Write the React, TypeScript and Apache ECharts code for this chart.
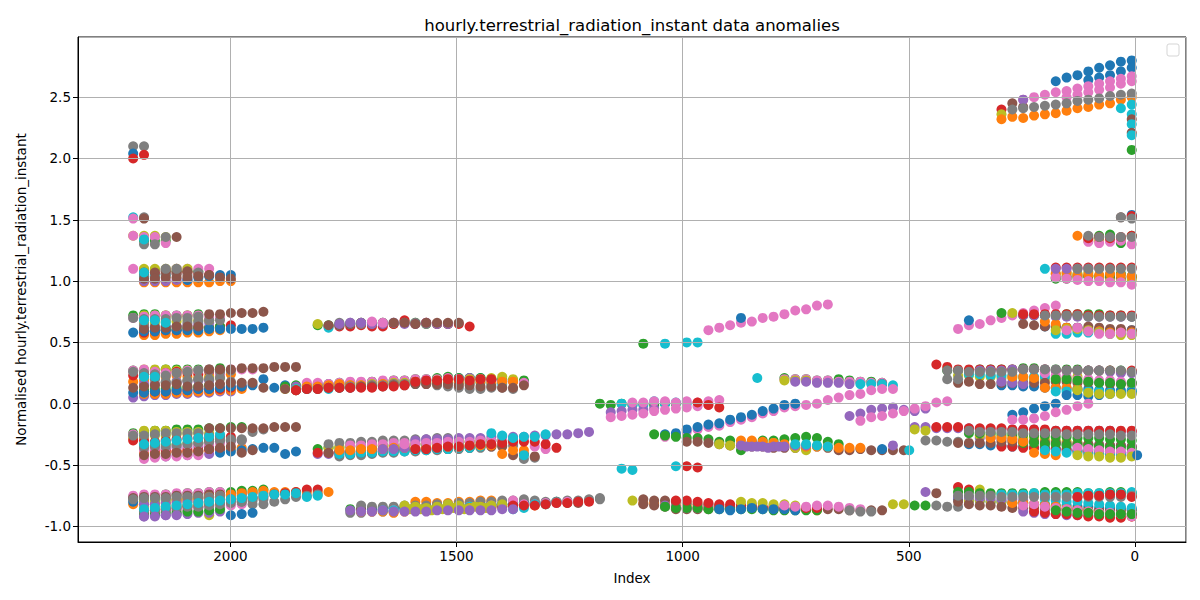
import * as echarts from 'echarts';
import React, { useEffect, useRef } from 'react';

// tab10 colours, matplotlib default cycle
const palette: Record<string, string> = {
  blue: '#1f77b4',
  orange: '#ff7f0e',
  green: '#2ca02c',
  red: '#d62728',
  purple: '#9467bd',
  brown: '#8c564b',
  pink: '#e377c2',
  gray: '#7f7f7f',
  olive: '#bcbd22',
  cyan: '#17becf',
};

// samples are 24 indices apart; each band = [colour, first index, values going towards index 0]
const STEP = 24;
type Band = [string, number, number[]];

const leftCluster: Band[] = [
  ['gray', 2215, [2.1, 2.1]],
  ['blue', 2215, [2.04]],
  ['red', 2215, [2.0, 2.03]],
  ['cyan', 2215, [1.52]],
  ['pink', 2215, [1.51]],
  ['gray', 2191, [1.52]],
  ['brown', 2191, [1.51]],
  ['green', 2191, [1.33, 1.33, 1.33]],
  ['olive', 2215, [1.37, 1.37, 1.37, 1.36]],
  ['pink', 2215, [1.37, 1.36, 1.36, 1.31]],
  ['gray', 2191, [1.3, 1.3, 1.36]],
  ['cyan', 2191, [1.34]],
  ['brown', 2119, [1.36]],
  ['green', 2191, [1.09, 1.09, 1.09, 1.08, 1.08, 1.08]],
  ['pink', 2215, [1.1, 1.08, 1.07, 1.09, 1.1, 1.1, 1.1, 1.1]],
  ['olive', 2191, [1.1, 1.1, 1.1, 1.1, 1.1]],
  ['orange', 2191, [0.99, 0.99, 0.99, 0.99, 0.99, 0.99, 0.99, 1.0, 1.0]],
  ['purple', 2191, [1.0, 1.0, 1.0, 1.01, 1.01]],
  ['red', 2191, [1.05, 1.05, 1.06, 1.06, 1.07, 1.06, 1.05]],
  ['cyan', 2191, [1.04, 1.04, 1.05]],
  ['blue', 2095, [1.01, 1.03, 1.04, 1.05, 1.05]],
  ['gray', 2191, [1.06, 1.03, 1.06, 1.06, 1.05, 1.07]],
  ['brown', 2191, [1.07, 1.07, 1.08, 1.08, 1.08]],
  ['brown', 2191, [1.02, 1.02, 1.03, 1.03, 1.03, 1.04, 1.05, 1.03, 1.02]],
  ['cyan', 2191, [1.07]],
  ['gray', 2143, [1.1, 1.1]],
  ['green', 2215, [0.72, 0.73, 0.73, 0.72, 0.72, 0.72, 0.73]],
  ['olive', 2191, [0.72, 0.72, 0.72, 0.71, 0.72]],
  ['orange', 2191, [0.56, 0.56, 0.57, 0.57, 0.58, 0.58, 0.59, 0.6]],
  ['red', 2191, [0.58, 0.59, 0.6, 0.6, 0.61, 0.62, 0.62, 0.63, 0.64]],
  ['green', 2191, [0.6, 0.6, 0.61, 0.61, 0.62, 0.62, 0.62, 0.63]],
  ['purple', 2191, [0.62, 0.62, 0.63, 0.63, 0.64, 0.65, 0.66]],
  ['olive', 2191, [0.66, 0.66, 0.67, 0.67, 0.68, 0.68, 0.68]],
  ['blue', 2215, [0.58, 0.59, 0.59, 0.6, 0.6, 0.6, 0.6, 0.61, 0.61, 0.61, 0.61, 0.61, 0.62]],
  ['pink', 2215, [0.7, 0.71, 0.72, 0.72, 0.72, 0.72, 0.72, 0.7, 0.7]],
  ['gray', 2215, [0.7, 0.69, 0.69, 0.69, 0.7, 0.7, 0.71]],
  ['gray', 2191, [0.64, 0.63, 0.63, 0.63, 0.66, 0.67, 0.68, 0.68]],
  ['brown', 2191, [0.61, 0.62, 0.62, 0.63, 0.63, 0.63]],
  ['brown', 2047, [0.73, 0.73, 0.74, 0.74, 0.74, 0.75]],
  ['cyan', 2191, [0.68, 0.68, 0.66]],
  ['green', 2215, [0.27, 0.27, 0.27, 0.28, 0.28, 0.28, 0.28, 0.28, 0.29]],
  ['olive', 2191, [0.28, 0.28, 0.28, 0.27, 0.27]],
  ['purple', 2215, [0.05, 0.06, 0.07, 0.07, 0.08, 0.08, 0.09, 0.09, 0.1, 0.1]],
  ['orange', 2191, [0.08, 0.08, 0.08, 0.09, 0.09, 0.1, 0.1, 0.11, 0.11, 0.12]],
  ['orange', 2215, [0.18, 0.19, 0.21, 0.22, 0.23, 0.22, 0.21, 0.22, 0.23, 0.24]],
  ['red', 2191, [0.1, 0.1, 0.1, 0.11, 0.11, 0.12, 0.12, 0.12, 0.13, 0.14]],
  ['red', 2215, [0.23, 0.24, 0.24, 0.25, 0.26, 0.25, 0.24, 0.26, 0.27]],
  ['green', 2191, [0.11, 0.12, 0.12, 0.13, 0.13, 0.14, 0.15]],
  ['olive', 2191, [0.15, 0.16, 0.17, 0.18, 0.19, 0.2, 0.21, 0.21]],
  ['blue', 2215, [0.09, 0.09, 0.1, 0.1, 0.11, 0.11, 0.12, 0.12, 0.13, 0.14, 0.14, 0.15, 0.2, 0.13, 0.15]],
  ['purple', 2191, [0.16, 0.16, 0.17, 0.18, 0.18, 0.19, 0.19]],
  ['pink', 2215, [0.27, 0.28, 0.26, 0.25, 0.25, 0.27, 0.27, 0.28, 0.24, 0.28, 0.28, 0.28]],
  ['gray', 2215, [0.26, 0.25, 0.24, 0.23, 0.25, 0.26, 0.27, 0.27, 0.26, 0.27]],
  ['gray', 2191, [0.22, 0.2, 0.18, 0.17, 0.19, 0.2, 0.2, 0.21, 0.18]],
  ['brown', 2215, [0.13, 0.14, 0.15, 0.15, 0.16, 0.14, 0.14, 0.15, 0.16, 0.17, 0.17, 0.17, 0.13]],
  ['brown', 2047, [0.28, 0.28, 0.28, 0.29, 0.29, 0.29, 0.3, 0.3, 0.3]],
  ['cyan', 2191, [0.22, 0.22]],
  ['green', 2215, [-0.24, -0.23, -0.22, -0.22, -0.21, -0.21, -0.21, -0.2, -0.2, -0.19, -0.19]],
  ['olive', 2191, [-0.22, -0.22, -0.22, -0.23, -0.23, -0.23]],
  ['olive', 2215, [-0.28, -0.27, -0.26, -0.26, -0.25, -0.25, -0.24, -0.24]],
  ['red', 2215, [-0.3, -0.3, -0.31, -0.3, -0.29, -0.28, -0.28, -0.29, -0.27, -0.27]],
  ['green', 2191, [-0.34, -0.34, -0.33, -0.33, -0.32, -0.32, -0.31, -0.31, -0.3]],
  ['orange', 2191, [-0.4, -0.4, -0.4, -0.39, -0.39, -0.39, -0.38, -0.37, -0.37, -0.36]],
  ['purple', 2191, [-0.36, -0.36, -0.37, -0.36, -0.36, -0.35, -0.35]],
  ['purple', 2167, [-0.43, -0.43, -0.42, -0.42, -0.41, -0.41]],
  ['red', 2167, [-0.38, -0.38, -0.39, -0.38, -0.38, -0.37, -0.37]],
  ['pink', 2215, [-0.25, -0.45, -0.44, -0.43, -0.43, -0.42, -0.42]],
  ['pink', 2191, [-0.38, -0.37, -0.36, -0.35, -0.34, -0.33, -0.33, -0.32, -0.31, -0.3]],
  ['gray', 2191, [-0.36, -0.35, -0.35, -0.34, -0.33, -0.32, -0.31, -0.3, -0.3, -0.29]],
  ['gray', 2215, [-0.26, -0.26, -0.25, -0.24, -0.24, -0.24, -0.24, -0.26, -0.28, -0.29, -0.3, -0.23, -0.21]],
  ['blue', 2023, [-0.4, -0.39, -0.38, -0.37, -0.36, -0.36, -0.41, -0.39]],
  ['cyan', 2191, [-0.33, -0.32, -0.31, -0.3, -0.29, -0.28, -0.27, -0.25]],
  ['brown', 2191, [-0.42, -0.41, -0.41, -0.4, -0.4, -0.39, -0.37, -0.36, -0.35, -0.4, -0.38]],
  ['brown', 2047, [-0.2, -0.2, -0.2, -0.2, -0.2, -0.2, -0.19, -0.19, -0.19]],
  ['green', 2215, [-0.76, -0.75, -0.75, -0.74, -0.74, -0.73, -0.73, -0.72, -0.72, -0.72, -0.71, -0.71, -0.7]],
  ['orange', 2215, [-0.82, -0.82, -0.81, -0.81, -0.8, -0.8, -0.8, -0.79, -0.79, -0.78, -0.78, -0.77]],
  ['blue', 2215, [-0.8, -0.79, -0.79, -0.78, -0.78, -0.77, -0.77, -0.76, -0.76, -0.75, -0.75]],
  ['pink', 2215, [-0.75, -0.74, -0.74, -0.74, -0.73, -0.73, -0.73, -0.72, -0.72]],
  ['brown', 2215, [-0.77, -0.76, -0.76, -0.76, -0.75, -0.75, -0.75, -0.74, -0.74, -0.74, -0.73, -0.73, -0.73]],
  ['olive', 2191, [-0.8, -0.8, -0.79, -0.79, -0.78, -0.77, -0.91, -0.76, -0.75]],
  ['olive', 2191, [-0.85, -0.84, -0.84, -0.83, -0.83, -0.82, -0.82, -0.81]],
  ['orange', 2119, [-0.78, -0.78, -0.77, -0.76, -0.75, -0.74, -0.73, -0.72, -0.71, -0.72, -0.72, -0.72, -0.72, -0.72, -0.72]],
  ['red', 2191, [-0.88, -0.87, -0.86, -0.85, -0.84, -0.84, -0.83, -0.8, -0.79, -0.78, -0.77, -0.76, -0.74, -0.73, -0.72, -0.7, -0.7]],
  ['purple', 2191, [-0.82, -0.82, -0.81, -0.81, -0.8, -0.8, -0.79, -0.79, -0.78]],
  ['purple', 2191, [-0.92, -0.91, -0.91, -0.9, -0.9, -0.89, -0.89, -0.88]],
  ['pink', 2191, [-0.9, -0.89, -0.88, -0.87, -0.86, -0.85, -0.84, -0.84, -0.83, -0.82]],
  ['green', 2191, [-0.9, -0.9, -0.89, -0.89, -0.88, -0.88, -0.87, -0.86]],
  ['gray', 2191, [-0.88, -0.87, -0.86, -0.85, -0.84, -0.84, -0.83, -0.82, -0.81, -0.8, -0.79, -0.78]],
  ['gray', 2215, [-0.78, -0.77, -0.77, -0.77, -0.76, -0.76, -0.76, -0.76, -0.75, -0.78, -0.8, -0.82, -0.82, -0.8, -0.78, -0.76, -0.75, -0.74]],
  ['blue', 1999, [-0.91, -0.9, -0.89]],
  ['cyan', 2191, [-0.86, -0.85, -0.84, -0.83, -0.82, -0.81, -0.8, -0.79, -0.78, -0.77, -0.76, -0.75, -0.74, -0.74, -0.73, -0.76, -0.75]],
  ['purple', 2191, [-0.92, -0.92, -0.91, -0.91]],
];

const middleLeftCluster: Band[] = [
  ['green', 1807, [0.64, 0.64, 0.65, 0.65, 0.66, 0.66, 0.66, 0.65, 0.66, 0.66, 0.65, 0.65, 0.65]],
  ['red', 1783, [0.63, 0.63, 0.63, 0.64, 0.63, 0.63, 0.65, 0.68, 0.65, 0.66, 0.65, 0.65, 0.65, 0.63]],
  ['olive', 1807, [0.65]],
  ['cyan', 1783, [0.62, 0.64, 0.65]],
  ['brown', 1783, [0.64, 0.64, 0.65, 0.66, 0.66]],
  ['gray', 1759, [0.66, 0.66, 0.65, 0.65, 0.66, 0.66, 0.66, 0.66, 0.65]],
  ['purple', 1759, [0.65, 0.66, 0.66, 0.65, 0.65, 0.66, 0.65, 0.65, 0.66, 0.65, 0.65]],
  ['pink', 1687, [0.67, 0.66]],
  ['brown', 1639, [0.66, 0.66, 0.65, 0.66, 0.66, 0.66, 0.66]],
  ['blue', 1879, [0.13, 0.13, 0.14, 0.14, 0.15, 0.15, 0.16, 0.16, 0.17, 0.17, 0.18, 0.18, 0.19, 0.19, 0.2, 0.2, 0.21, 0.21, 0.21, 0.2, 0.19, 0.19, 0.18]],
  ['green', 1879, [0.14, 0.15, 0.15, 0.16, 0.16, 0.17, 0.17, 0.17, 0.18, 0.18, 0.19, 0.19, 0.2, 0.2, 0.21, 0.22, 0.21, 0.21, 0.21, 0.2, 0.2, 0.19, 0.19]],
  ['purple', 1855, [0.14, 0.15, 0.15, 0.16, 0.16, 0.13, 0.14, 0.14, 0.15, 0.16, 0.17, 0.18, 0.19, 0.19, 0.2, 0.2, 0.21, 0.2, 0.19, 0.18]],
  ['pink', 1831, [0.17, 0.17, 0.16, 0.17, 0.18, 0.18, 0.18, 0.19, 0.19, 0.19, 0.2, 0.2, 0.2, 0.21, 0.2, 0.2, 0.2, 0.19, 0.18, 0.18, 0.17]],
  ['olive', 1879, [0.12, 0.12, 0.13, 0.13, 0.14, 0.14, 0.15, 0.15, 0.16, 0.16, 0.17, 0.17, 0.18, 0.18, 0.19, 0.19, 0.19, 0.2, 0.2, 0.21, 0.22, 0.2]],
  ['cyan', 1855, [0.12, 0.12, 0.13, 0.12, 0.13, 0.14, 0.14, 0.15, 0.15, 0.16, 0.16, 0.16, 0.17, 0.17, 0.18, 0.17, 0.17, 0.17, 0.16, 0.16]],
  ['orange', 1855, [0.11, 0.14, 0.14, 0.15, 0.16, 0.15, 0.15, 0.15, 0.16, 0.16, 0.16, 0.17, 0.17, 0.17, 0.18, 0.17, 0.17, 0.18, 0.17, 0.18, 0.18]],
  ['gray', 1855, [0.11, 0.12, 0.12, 0.13, 0.13, 0.14, 0.14, 0.15, 0.15, 0.16, 0.16, 0.17, 0.16, 0.15, 0.14, 0.13, 0.12, 0.12, 0.13, 0.13, 0.12]],
  ['brown', 1879, [0.12, 0.11, 0.12, 0.12, 0.13, 0.13, 0.13, 0.14, 0.14, 0.14, 0.15, 0.15, 0.16, 0.16, 0.16, 0.16, 0.15, 0.15, 0.14, 0.14, 0.13, 0.13, 0.15]],
  ['red', 1855, [0.11, 0.12, 0.12, 0.13, 0.13, 0.13, 0.13, 0.13, 0.14, 0.14, 0.15, 0.18, 0.19, 0.19, 0.2, 0.2, 0.19, 0.2, 0.2]],
  ['green', 1807, [-0.37, -0.36, -0.36, -0.35, -0.35, -0.35, -0.34, -0.34, -0.34, -0.33, -0.33, -0.33, -0.32, -0.32, -0.31, -0.31, -0.3, -0.3, -0.3]],
  ['purple', 1807, [-0.41, -0.41, -0.4, -0.4, -0.39, -0.39, -0.39, -0.38, -0.38, -0.38, -0.37, -0.37]],
  ['red', 1807, [-0.4, -0.4, -0.39, -0.39, -0.38, -0.38, -0.37, -0.37, -0.36]],
  ['olive', 1783, [-0.36, -0.35, -0.35, -0.36, -0.34, -0.34, -0.34, -0.33, -0.33, -0.32, -0.32, -0.31, -0.3, -0.31, -0.29, -0.3]],
  ['gray', 1783, [-0.33, -0.32, -0.32, -0.31, -0.31, -0.3, -0.3, -0.3, -0.29, -0.29, -0.28, -0.28]],
  ['pink', 1735, [-0.34, -0.34, -0.33, -0.33, -0.32, -0.32, -0.31, -0.31]],
  ['blue', 1759, [-0.39, -0.39, -0.38, -0.38, -0.38, -0.37, -0.37, -0.37, -0.36, -0.36, -0.35, -0.35, -0.35, -0.34]],
  ['gray', 1759, [-0.43, -0.42, -0.42, -0.41, -0.4, -0.4, -0.39, -0.39, -0.38, -0.38, -0.37, -0.37, -0.36, -0.36, -0.35, -0.34, -0.34, -0.45, -0.44]],
  ['brown', 1783, [-0.4, -0.41, -0.41, -0.4, -0.4, -0.39, -0.39, -0.38, -0.38, -0.37, -0.37, -0.37, -0.36, -0.36, -0.35, -0.35, -0.35, -0.42, -0.41, -0.43]],
  ['cyan', 1759, [-0.41, -0.41, -0.4, -0.4, -0.39, -0.39, -0.39, -0.38, -0.38, -0.37, -0.37, -0.36, -0.36, -0.35]],
  ['orange', 1759, [-0.38, -0.38, -0.37, -0.37, -0.37, -0.36, -0.36, -0.36, -0.36, -0.35, -0.35, -0.35, -0.34, -0.34, -0.34, -0.41, -0.38, -0.38]],
  ['purple', 1663, [-0.37, -0.37, -0.36, -0.3, -0.29, -0.29, -0.29, -0.28, -0.28, -0.28, -0.27, -0.27, -0.27, -0.27, -0.26, -0.26, -0.25, -0.25, -0.24, -0.23]],
  ['pink', 1615, [-0.33, -0.33, -0.32, -0.32, -0.31, -0.31, -0.31, -0.3, -0.3, -0.3, -0.3, -0.3, -0.35, -0.37]],
  ['red', 1591, [-0.37, -0.37, -0.36, -0.35, -0.35, -0.34, -0.33, -0.33, -0.32, -0.31, -0.31, -0.31, -0.33, -0.36]],
  ['cyan', 1423, [-0.24, -0.26, -0.28, -0.27, -0.27, -0.25]],
  ['cyan', 1351, [-0.42]],
  ['green', 1735, [-0.86, -0.86, -0.86, -0.85, -0.85, -0.85, -0.84, -0.84, -0.84, -0.83, -0.83, -0.83, -0.82, -0.82, -0.82, -0.82, -0.81, -0.81, -0.81, -0.8]],
  ['gray', 1735, [-0.89, -0.89, -0.88, -0.88, -0.88, -0.87, -0.87, -0.87, -0.86, -0.86, -0.86, -0.85]],
  ['orange', 1711, [-0.88, -0.88, -0.88, -0.89, -0.88, -0.87, -0.87, -0.86, -0.86, -0.86, -0.85, -0.85, -0.85, -0.84, -0.84, -0.83, -0.83, -0.82]],
  ['orange', 1591, [-0.8, -0.8, -0.81, -0.81, -0.8, -0.8, -0.79, -0.79]],
  ['brown', 1711, [-0.86, -0.86, -0.86, -0.85, -0.85, -0.85, -0.85, -0.84, -0.84, -0.84, -0.84, -0.83, -0.83, -0.83, -0.83, -0.82, -0.82, -0.82, -0.81, -0.81, -0.81]],
  ['blue', 1687, [-0.86, -0.86, -0.85, -0.85, -0.85, -0.84, -0.84, -0.84, -0.83, -0.83, -0.83, -0.82, -0.82, -0.82, -0.81, -0.81, -0.81, -0.8]],
  ['gray', 1711, [-0.83, -0.84, -0.84, -0.84, -0.83, -0.83, -0.83, -0.82, -0.82, -0.81, -0.81, -0.8, -0.8, -0.79, -0.79, -0.78, -0.79, -0.8, -0.8, -0.79, -0.79, -0.78, -0.78]],
  ['pink', 1639, [-0.87, -0.87, -0.86, -0.86, -0.85, -0.85, -0.85, -0.84, -0.84, -0.83, -0.83, -0.79, -0.82, -0.82, -0.81, -0.81, -0.8]],
  ['cyan', 1663, [-0.87, -0.87, -0.86, -0.86, -0.86, -0.85, -0.85, -0.85, -0.84, -0.84, -0.84, -0.84, -0.86, -0.85, -0.82, -0.82]],
  ['red', 1567, [-0.87, -0.86, -0.86, -0.85, -0.85, -0.84, -0.84, -0.84, -0.83, -0.83, -0.83, -0.82, -0.81, -0.81, -0.8, -0.8]],
  ['olive', 1615, [-0.83, -0.84, -0.85, -0.84, -0.82, -0.83, -0.85, -0.84, -0.83, -0.82]],
  ['olive', 1603, [-0.86, -0.86, -0.87, -0.86, -0.85, -0.86, -0.84, -0.85]],
  ['purple', 1735, [-0.87, -0.88, -0.88, -0.87, -0.88, -0.88, -0.88, -0.88, -0.87, -0.87, -0.87, -0.87, -0.87, -0.87, -0.86, -0.86]],
];

const middleRightCluster: Band[] = [
  ['pink', 943, [0.6, 0.62, 0.64, 0.66, 0.67, 0.7, 0.71, 0.73, 0.76, 0.77, 0.8, 0.81]],
  ['blue', 871, [0.7]],
  ['green', 1087, [0.49]],
  ['cyan', 1039, [0.49]],
  ['cyan', 991, [0.5, 0.5]],
  ['cyan', 835, [0.21]],
  ['green', 775, [0.21, 0.2, 0.2, 0.19, 0.19, 0.2, 0.19, 0.18, 0.18, 0.17]],
  ['pink', 775, [0.2, 0.2, 0.2, 0.19, 0.19, 0.18, 0.18, 0.18, 0.17, 0.17]],
  ['olive', 775, [0.19, 0.19, 0.19]],
  ['purple', 751, [0.18, 0.18, 0.17, 0.17, 0.17, 0.16]],
  ['red', 559, [0.16]],
  ['cyan', 607, [0.16, 0.16, 0.16, 0.15]],
  ['green', 1183, [0.0, -0.01, 0.0, -0.01, 0.0, -0.01, 0.0, 0.0]],
  ['cyan', 1135, [0.0, -0.01, -0.01, 0.02, 0.0, 0.01, 0.0]],
  ['purple', 1159, [-0.07, -0.06, -0.05, -0.05, -0.04]],
  ['pink', 1159, [-0.11, -0.1, -0.09, -0.08, -0.06, -0.05, -0.04, -0.03, -0.02, -0.01, 0.03]],
  ['pink', 1111, [0.01, 0.01, 0.02, 0.02, 0.01, 0.02, 0.01, 0.02]],
  ['red', 967, [0.01, -0.01, -0.03]],
  ['pink', 1039, [-0.27, -0.26, -0.23, -0.21, -0.19, -0.18, -0.15, -0.13, -0.11, -0.08, -0.06, -0.03, -0.02, -0.01, 0.0, 0.03, 0.05, 0.07, 0.08, 0.11, 0.12, 0.12]],
  ['blue', 1039, [-0.25, -0.24, -0.21, -0.19, -0.17, -0.16, -0.13, -0.11, -0.09, -0.06, -0.04, -0.01, 0.0]],
  ['purple', 631, [-0.1, -0.08, -0.05, -0.04, -0.03, -0.05, -0.06, -0.04]],
  ['pink', 607, [-0.14, -0.11, -0.1, -0.08, -0.06, -0.04, -0.02, 0.01, 0.02]],
  ['green', 1063, [-0.25, -0.26, -0.27, -0.28, -0.28, -0.29, -0.31, -0.3, -0.38, -0.31, -0.3, -0.3, -0.29, -0.28, -0.27, -0.28, -0.31, -0.33]],
  ['brown', 991, [-0.31, -0.31, -0.32, -0.33, -0.34, -0.34, -0.35, -0.35, -0.36, -0.36, -0.36, -0.37, -0.35, -0.36, -0.38, -0.38, -0.37, -0.38, -0.38, -0.38, -0.38]],
  ['olive', 919, [-0.33, -0.34, -0.33, -0.33, -0.32, -0.32, -0.34, -0.36, -0.38]],
  ['orange', 871, [-0.3, -0.3, -0.31, -0.32, -0.33, -0.34, -0.35, -0.35, -0.35, -0.36, -0.36, -0.36]],
  ['purple', 871, [-0.34, -0.35, -0.35, -0.35, -0.35, -0.34, -0.34]],
  ['purple', 859, [-0.35, -0.35, -0.36, -0.35]],
  ['cyan', 751, [-0.33, -0.33, -0.34, -0.35]],
  ['blue', 559, [-0.37]],
  ['purple', 535, [-0.34]],
  ['cyan', 499, [-0.38]],
  ['cyan', 1135, [-0.53, -0.54]],
  ['cyan', 1015, [-0.51]],
  ['red', 991, [-0.51, -0.52]],
  ['gray', 1183, [-0.77]],
  ['olive', 1111, [-0.79]],
  ['orange', 1087, [-0.81, -0.81, -0.82, -0.83, -0.83, -0.84, -0.84, -0.84, -0.85, -0.85, -0.85, -0.85, -0.86, -0.86, -0.86, -0.86, -0.87]],
  ['brown', 1087, [-0.78, -0.79, -0.79, -0.8, -0.81, -0.82, -0.82, -0.83, -0.84, -0.84, -0.85, -0.85, -0.85, -0.86, -0.86, -0.86, -0.86, -0.86, -0.86, -0.87, -0.87, -0.87, -0.87]],
  ['brown', 1087, [-0.82, -0.83, -0.84, -0.86, -0.86, -0.86, -0.86, -0.85, -0.85, -0.85]],
  ['purple', 1039, [-0.83, -0.84, -0.85, -0.85, -0.84]],
  ['green', 1039, [-0.84, -0.85, -0.85, -0.85, -0.86, -0.86, -0.86, -0.86, -0.86, -0.86, -0.87, -0.87, -0.87, -0.87, -0.87]],
  ['red', 1015, [-0.79, -0.79, -0.8, -0.81, -0.82, -0.82, -0.83, -0.83, -0.84, -0.84, -0.85, -0.85, -0.85, -0.85]],
  ['olive', 871, [-0.8, -0.81, -0.81, -0.82, -0.82, -0.83]],
  ['blue', 919, [-0.86, -0.87, -0.86, -0.85, -0.86, -0.86, -0.86, -0.87]],
  ['pink', 775, [-0.83, -0.84, -0.84, -0.83, -0.83, -0.84, -0.85, -0.86]],
  ['gray', 631, [-0.87, -0.88, -0.88]],
  ['olive', 535, [-0.82, -0.82]],
  ['green', 487, [-0.83, -0.83]],
];

const rightCluster: Band[] = [
  ['blue', 175, [2.63, 2.66, 2.68, 2.71, 2.74, 2.76, 2.79, 2.8]],
  ['blue', 103, [2.64, 2.66, 2.68, 2.71, 2.74]],
  ['pink', 247, [2.48, 2.5, 2.52, 2.54, 2.55, 2.57, 2.59, 2.61, 2.63, 2.65, 2.67]],
  ['pink', 151, [2.5, 2.52, 2.54, 2.56, 2.58, 2.61, 2.63]],
  ['red', 295, [2.4]],
  ['olive', 295, [2.36]],
  ['brown', 271, [2.45, 2.42]],
  ['purple', 247, [2.48]],
  ['orange', 295, [2.32, 2.34, 2.33, 2.35, 2.36, 2.37, 2.39, 2.41, 2.42, 2.44, 2.45, 2.48, 2.5]],
  ['gray', 271, [2.4, 2.41, 2.42, 2.43, 2.44, 2.45, 2.47, 2.48, 2.49, 2.51, 2.52, 2.53]],
  ['cyan', 31, [2.41, 2.44]],
  ['cyan', 7, [2.36]],
  ['brown', 7, [2.32]],
  ['cyan', 7, [2.28]],
  ['brown', 7, [2.21]],
  ['cyan', 7, [2.19]],
  ['green', 7, [2.07]],
  ['brown', 31, [1.52, 1.52]],
  ['blue', 7, [1.54]],
  ['red', 7, [1.53]],
  ['gray', 31, [1.52, 1.51]],
  ['orange', 127, [1.37]],
  ['green', 103, [1.35, 1.37, 1.38, 1.31, 1.37]],
  ['olive', 103, [1.33, 1.33, 1.34, 1.34]],
  ['pink', 103, [1.32, 1.31, 1.32, 1.33, 1.3]],
  ['red', 103, [1.35, 1.36, 1.35, 1.36, 1.37]],
  ['gray', 103, [1.37, 1.36, 1.36, 1.36, 1.36]],
  ['cyan', 199, [1.1]],
  ['red', 175, [1.11, 1.11, 1.11, 1.11, 1.11, 1.11, 1.11, 1.11]],
  ['brown', 175, [1.03, 1.04, 1.05, 1.04, 1.03, 1.03, 1.02, 1.03]],
  ['green', 175, [1.02, 1.02, 1.03, 1.04, 1.04, 1.05, 1.06, 1.04]],
  ['olive', 175, [1.06, 1.06, 1.06, 1.07, 1.03, 1.0, 1.0, 1.01]],
  ['orange', 175, [1.06, 1.07, 1.04, 1.05, 1.05, 1.06, 1.05, 1.04]],
  ['pink', 175, [1.03, 1.02, 1.01, 1.0, 1.0, 0.99, 0.99, 0.97]],
  ['purple', 175, [1.1, 1.1, 1.1, 1.1]],
  ['gray', 127, [1.1, 1.1, 1.1, 1.1, 1.1, 1.1]],
  ['pink', 391, [0.61, 0.64, 0.65, 0.68, 0.7, 0.72, 0.74, 0.76, 0.78, 0.8]],
  ['blue', 367, [0.68]],
  ['green', 295, [0.74]],
  ['olive', 271, [0.74]],
  ['green', 247, [0.72, 0.72, 0.72, 0.72, 0.73, 0.73, 0.73, 0.73, 0.72, 0.72, 0.71]],
  ['purple', 247, [0.72, 0.72, 0.72, 0.71, 0.71, 0.71, 0.71, 0.71, 0.71, 0.71, 0.71]],
  ['red', 247, [0.73, 0.73, 0.73, 0.73, 0.73, 0.73, 0.72, 0.72, 0.72, 0.72, 0.72]],
  ['blue', 199, [0.63, 0.63, 0.62, 0.62, 0.61, 0.61, 0.6, 0.6, 0.6]],
  ['brown', 247, [0.65, 0.64, 0.63, 0.63, 0.62, 0.62, 0.63, 0.62, 0.61, 0.61, 0.6]],
  ['orange', 199, [0.67, 0.65, 0.62, 0.6, 0.59, 0.59, 0.58, 0.58, 0.58]],
  ['cyan', 175, [0.57, 0.57, 0.58, 0.58, 0.58, 0.57, 0.57, 0.57]],
  ['olive', 175, [0.6, 0.61, 0.61, 0.6, 0.58, 0.57, 0.56, 0.56]],
  ['pink', 151, [0.6, 0.62, 0.59, 0.57, 0.57, 0.58, 0.57]],
  ['gray', 199, [0.72, 0.72, 0.72, 0.72, 0.71, 0.71, 0.71, 0.71, 0.71]],
  ['red', 439, [0.32, 0.3]],
  ['green', 415, [0.27, 0.27, 0.27, 0.28, 0.28, 0.28, 0.28, 0.29, 0.29, 0.28, 0.28, 0.28, 0.28, 0.27, 0.27, 0.27, 0.27, 0.26]],
  ['red', 391, [0.28, 0.28, 0.28, 0.28, 0.28, 0.28, 0.28, 0.28, 0.28, 0.27, 0.27, 0.27, 0.27, 0.27, 0.27, 0.26, 0.27]],
  ['purple', 343, [0.27, 0.27, 0.27, 0.28, 0.28, 0.28, 0.28, 0.27, 0.27, 0.27, 0.27, 0.27, 0.26, 0.25, 0.25]],
  ['olive', 391, [0.23, 0.23, 0.22, 0.22, 0.21, 0.21, 0.21, 0.2, 0.2, 0.21, 0.21, 0.22]],
  ['cyan', 367, [0.24, 0.24, 0.23, 0.23, 0.23, 0.22, 0.22, 0.22]],
  ['blue', 295, [0.15, 0.15, 0.14, 0.14, 0.13, 0.13, 0.12, 0.12, 0.12, 0.11, 0.11, 0.11, 0.11]],
  ['brown', 391, [0.17, 0.18, 0.16, 0.16, 0.17, 0.17, 0.17, 0.17, 0.17, 0.18, 0.18, 0.17, 0.17, 0.17, 0.16, 0.16, 0.16]],
  ['purple', 295, [0.18, 0.17, 0.16]],
  ['orange', 271, [0.22, 0.22, 0.21]],
  ['orange', 199, [0.13, 0.13, 0.13, 0.12]],
  ['pink', 199, [0.25, 0.23, 0.22, 0.2, 0.2, 0.19, 0.19, 0.18, 0.17]],
  ['cyan', 175, [0.1, 0.1, 0.11, 0.1, 0.1, 0.09, 0.09, 0.1]],
  ['blue', 151, [0.07, 0.07, 0.06, 0.07, 0.08, 0.09, 0.09]],
  ['green', 175, [0.2, 0.2, 0.19, 0.18, 0.17, 0.17, 0.16, 0.17]],
  ['olive', 127, [0.11, 0.09, 0.08, 0.08, 0.08, 0.08]],
  ['gray', 415, [0.27, 0.27, 0.26, 0.26, 0.26, 0.26, 0.26, 0.28, 0.28, 0.28, 0.28, 0.27, 0.27, 0.27, 0.27, 0.27, 0.27, 0.26]],
  ['gray', 415, [0.2, 0.2]],
  ['purple', 487, [-0.19, -0.19, -0.2, -0.2, -0.2, -0.2, -0.21, -0.21, -0.21, -0.21, -0.21, -0.21, -0.22, -0.22, -0.22, -0.22, -0.22, -0.22, -0.22, -0.23, -0.23]],
  ['olive', 487, [-0.21, -0.22]],
  ['red', 439, [-0.19, -0.19, -0.19, -0.2, -0.2, -0.2, -0.2, -0.21, -0.21, -0.21, -0.21, -0.22, -0.22, -0.22, -0.22, -0.22, -0.22, -0.22, -0.22]],
  ['gray', 463, [-0.3, -0.3, -0.31, -0.31]],
  ['blue', 367, [-0.33, -0.33, -0.34, -0.34, -0.35, -0.35, -0.36, -0.36, -0.37, -0.37, -0.38, -0.38, -0.39, -0.39, -0.4, -0.4]],
  ['purple', 343, [-0.28, -0.28, -0.29, -0.29, -0.3, -0.3, -0.31, -0.31, -0.32, -0.32, -0.33, -0.33, -0.34, -0.34, -0.35]],
  ['olive', 343, [-0.26, -0.26, -0.27, -0.27, -0.28, -0.28, -0.29, -0.3, -0.31, -0.32, -0.33, -0.34]],
  ['red', 295, [-0.35, -0.35, -0.36, -0.36, -0.37, -0.37, -0.38, -0.39, -0.4, -0.41, -0.41, -0.42, -0.42]],
  ['brown', 391, [-0.32, -0.32, -0.32, -0.32, -0.31, -0.31, -0.31, -0.31, -0.32, -0.32, -0.33, -0.33, -0.33, -0.34, -0.34, -0.34, -0.35]],
  ['green', 367, [-0.24, -0.24, -0.24, -0.25, -0.25, -0.25, -0.26, -0.26, -0.27, -0.27, -0.28, -0.28, -0.28, -0.29, -0.29, -0.3]],
  ['green', 247, [-0.32, -0.32, -0.33, -0.33, -0.34, -0.34, -0.35, -0.35, -0.36, -0.36, -0.37]],
  ['orange', 319, [-0.28, -0.28, -0.29, -0.31, -0.4, -0.41, -0.42]],
  ['blue', 271, [-0.09, -0.07, -0.04, -0.02, 0.0]],
  ['pink', 271, [-0.13, -0.13, -0.12, -0.1, -0.07, -0.05, -0.02, 0.0]],
  ['cyan', 199, [-0.38, -0.39, -0.4, -0.4, -0.41, -0.41, -0.41, -0.41, -0.42]],
  ['pink', 127, [-0.36, -0.37, -0.38, -0.39, -0.39, -0.4]],
  ['olive', 127, [-0.42, -0.43, -0.43, -0.44, -0.44, -0.43]],
  ['gray', 367, [-0.22, -0.23, -0.23, -0.23, -0.23, -0.24, -0.24, -0.24, -0.24, -0.25, -0.25, -0.25, -0.25, -0.25, -0.26, -0.26]],
  ['blue', -5, [-0.42]],
  ['purple', 463, [-0.72]],
  ['brown', 439, [-0.73]],
  ['gray', 439, [-0.83, -0.84, -0.84]],
  ['red', 391, [-0.68, -0.7]],
  ['olive', 343, [-0.7]],
  ['blue', 391, [-0.78, -0.79, -0.79, -0.8, -0.8, -0.81, -0.81, -0.82, -0.82, -0.83, -0.83, -0.84, -0.84, -0.85, -0.85, -0.85, -0.86]],
  ['olive', 367, [-0.79, -0.79, -0.8, -0.8, -0.81, -0.81, -0.82, -0.83, -0.84, -0.85, -0.86, -0.87, -0.88, -0.88, -0.89, -0.9]],
  ['purple', 391, [-0.76, -0.76, -0.77, -0.77, -0.78, -0.78, -0.79]],
  ['green', 391, [-0.72, -0.72, -0.73, -0.73, -0.73, -0.73, -0.73, -0.73, -0.72, -0.72, -0.72, -0.72, -0.73, -0.73, -0.72, -0.72, -0.73]],
  ['brown', 391, [-0.8, -0.82, -0.83, -0.83, -0.84, -0.85, -0.85, -0.85, -0.86, -0.86, -0.86, -0.86, -0.87, -0.87, -0.87, -0.87, -0.87]],
  ['cyan', 295, [-0.74, -0.74, -0.74, -0.73, -0.74, -0.74, -0.74, -0.73, -0.73, -0.73, -0.73, -0.73, -0.72]],
  ['cyan', 199, [-0.78, -0.79, -0.8, -0.8, -0.81, -0.82, -0.83, -0.84, -0.85]],
  ['orange', 271, [-0.81, -0.81, -0.82, -0.83, -0.84]],
  ['orange', 151, [-0.86, -0.87, -0.88, -0.89, -0.9, -0.91, -0.92]],
  ['purple', 247, [-0.88, -0.89, -0.9, -0.9, -0.91, -0.91, -0.91, -0.91, -0.91, -0.91, -0.9]],
  ['red', 223, [-0.88, -0.89, -0.9, -0.9, -0.91, -0.92, -0.92, -0.93, -0.93, -0.92]],
  ['pink', 247, [-0.83, -0.82, -0.84, -0.85, -0.86, -0.87, -0.88, -0.89, -0.89, -0.9, -0.92]],
  ['gray', 391, [-0.75, -0.75, -0.75, -0.75, -0.76, -0.76, -0.76, -0.76, -0.76, -0.76, -0.76, -0.76, -0.76, -0.76, -0.76, -0.76, -0.75]],
  ['green', 175, [-0.87, -0.88, -0.89, -0.89, -0.9, -0.9, -0.9, -0.9]],
  ['red', 127, [-0.76, -0.75, -0.75, -0.74, -0.74, -0.76]],
];

const titleText = 'hourly.terrestrial_radiation_instant data anomalies';
const xAxisName = 'Index';
const yAxisName = 'Normalised hourly.terrestrial_radiation_instant';

const FONT = 'DejaVu Sans, sans-serif';

const App: React.FC = () => {
  const chartRef = useRef<HTMLDivElement>(null);

  useEffect(() => {
    if (!chartRef.current) return;
    const instance = echarts.init(chartRef.current, null, { renderer: 'svg' });

    const bands = [...leftCluster, ...middleLeftCluster, ...middleRightCluster, ...rightCluster];
    const series = bands.map(([colour, start, values]) => ({
      type: 'scatter' as const,
      symbol: 'circle',
      symbolSize: 10,
      silent: true,
      itemStyle: { color: palette[colour], opacity: 1 },
      data: values.map((v, i) => [start - STEP * i, v]),
    }));

    instance.setOption({
      animation: false,
      title: {
        text: titleText,
        left: 627,
        top: 12,
        textAlign: 'center',
        textStyle: { fontFamily: FONT, fontSize: 16.5, fontWeight: 'normal', color: '#000' },
      },
      grid: {
        left: 78,
        right: 14,
        top: 37,
        bottom: 58,
        show: true,
        borderColor: '#000',
        borderWidth: 1,
        backgroundColor: 'transparent',
      },
      xAxis: {
        type: 'value',
        inverse: true,
        min: -113,
        max: 2337,
        splitNumber: 5,
        z: 10,
        name: xAxisName,
        nameLocation: 'middle',
        nameGap: 29,
        nameTextStyle: { fontFamily: FONT, fontSize: 13.5, color: '#000' },
        axisLine: { show: true, onZero: false, lineStyle: { color: '#000' } },
        axisTick: { show: true, length: 5, lineStyle: { color: '#000' } },
        axisLabel: {
          fontFamily: FONT,
          fontSize: 13.5,
          color: '#000',
          margin: 7,
          showMinLabel: false,
          showMaxLabel: false,
          formatter: (v: number) => String(v),
        },
        splitLine: { show: true, lineStyle: { color: '#b0b0b0', width: 1 } },
      },
      yAxis: {
        type: 'value',
        min: -1.128,
        max: 2.991,
        splitNumber: 8,
        z: 10,
        name: yAxisName,
        nameLocation: 'middle',
        nameGap: 50,
        nameTextStyle: { fontFamily: FONT, fontSize: 13.5, color: '#000' },
        axisLine: { show: true, onZero: false, lineStyle: { color: '#000' } },
        axisTick: { show: true, length: 5, lineStyle: { color: '#000' } },
        axisLabel: {
          fontFamily: FONT,
          fontSize: 13.5,
          color: '#000',
          margin: 7,
          showMinLabel: false,
          showMaxLabel: false,
          formatter: (v: number) => v.toFixed(1),
        },
        splitLine: { show: true, lineStyle: { color: '#b0b0b0', width: 1 } },
      },
      graphic: [
        {
          type: 'rect',
          shape: { x: 1167, y: 44, width: 12, height: 12, r: 2 },
          style: { fill: '#fff', stroke: '#d5d5d5', lineWidth: 1 },
          z: 100,
        },
      ],
      series,
    });

    return () => {
      instance.dispose();
    };
  }, []);

  return (
    <div
      ref={chartRef}
      style={{ position: 'absolute', left: 0, top: 0, width: 1200, height: 600, background: '#fff' }}
    />
  );
};

export default App;
